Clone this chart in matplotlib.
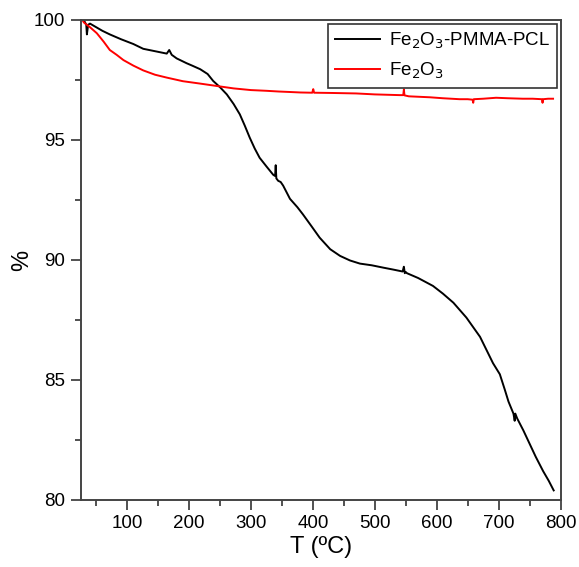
import matplotlib
matplotlib.use('Agg')
from matplotlib import pyplot as plt
from matplotlib.ticker import MultipleLocator

plt.rcParams['font.family'] = ['Liberation Sans', 'DejaVu Sans']

# Fe2O3-PMMA-PCL (spikes included)
t_comp = [28, 31, 34, 35, 37, 40, 50, 60, 72, 90, 110, 126, 145, 164, 168, 172,
          180, 196, 205, 218, 230, 239, 250, 261, 272, 282, 290, 298, 306, 314,
          325, 336, 339, 340, 341, 344, 348, 352, 363, 375, 384, 398, 411, 428,
          444, 460, 476, 495, 514, 530, 545, 547, 548.5, 550, 552, 570, 594, 610,
          627, 648, 670, 691, 702, 710, 716, 724, 726, 727, 730, 740, 750, 760,
          772, 781, 789]
y_comp = [100.0, 99.95, 99.8, 99.4, 99.8, 99.85, 99.7, 99.55, 99.4, 99.2, 99.0,
          98.8, 98.7, 98.6, 98.75, 98.55, 98.4, 98.2, 98.1, 97.95, 97.75, 97.46,
          97.2, 96.9, 96.5, 96.07, 95.6, 95.1, 94.65, 94.26, 93.9, 93.55, 93.5,
          93.95, 93.4, 93.3, 93.25, 93.1, 92.55, 92.2, 91.9, 91.4, 90.93, 90.45,
          90.17, 89.98, 89.85, 89.78, 89.68, 89.6, 89.52, 89.72, 89.45, 89.5,
          89.45, 89.25, 88.92, 88.6, 88.22, 87.6, 86.8, 85.7, 85.24, 84.6, 84.1,
          83.6, 83.3, 83.6, 83.4, 82.9, 82.35, 81.8, 81.2, 80.8, 80.4]

# Fe2O3
t_oxide = [28, 30, 40, 51, 62, 72, 83, 94, 110, 126, 145, 164, 190, 218, 245,
           272, 300, 325, 345, 363, 380, 399, 400.6, 402, 430, 470, 500, 540,
           546, 547, 548, 555, 589, 610, 637, 650, 658, 659, 660, 675, 696,
           715, 739, 755, 770, 771, 772, 780, 788]
y_oxide = [100.0, 99.9, 99.7, 99.45, 99.1, 98.75, 98.55, 98.33, 98.1, 97.9,
           97.72, 97.6, 97.45, 97.35, 97.25, 97.15, 97.08, 97.05, 97.02, 97.0,
           96.98, 96.97, 97.12, 96.97, 96.96, 96.94, 96.9, 96.87, 96.87, 97.1,
           96.86, 96.82, 96.78, 96.74, 96.7, 96.7, 96.68, 96.55, 96.7, 96.72,
           96.76, 96.74, 96.72, 96.72, 96.7, 96.55, 96.7, 96.72, 96.72]

fig = plt.figure(figsize=(5.79, 5.67), dpi=100)
ax = fig.add_axes([80.7 / 579, 1 - 500 / 567, (560.5 - 80.7) / 579, 480 / 567])

ax.plot(t_comp, y_comp, color='black', lw=1.4, label='Fe$_2$O$_3$-PMMA-PCL')
ax.plot(t_oxide, y_oxide, color='#ff0000', lw=1.4, label='Fe$_2$O$_3$')

ax.set_xlim(25, 800)
ax.set_ylim(80, 100)
ax.xaxis.set_major_locator(MultipleLocator(100))
ax.xaxis.set_minor_locator(MultipleLocator(50))
ax.yaxis.set_major_locator(MultipleLocator(5))
ax.yaxis.set_minor_locator(MultipleLocator(2.5))
ax.tick_params(which='major', direction='out', length=7, width=1.2,
               labelsize=13.5, color='#333333', pad=4)
ax.tick_params(which='minor', direction='out', length=4, width=1.2,
               color='#333333')
for s in ax.spines.values():
    s.set_color('#444444')
    s.set_linewidth(1.4)

ax.set_xlabel('T (ºC)', fontsize=17, labelpad=3)
ax.set_ylabel('%', fontsize=17)
ax.yaxis.set_label_coords(-0.10, 0.5)

leg = ax.legend(loc='upper right', fontsize=13.5, frameon=True, fancybox=False,
                borderaxespad=0.2, handlelength=2.4, handletextpad=0.5,
                labelspacing=0.55, borderpad=0.35)
leg.get_frame().set_edgecolor('black')
leg.get_frame().set_linewidth(1.2)

fig.savefig('out.png', dpi=100)
